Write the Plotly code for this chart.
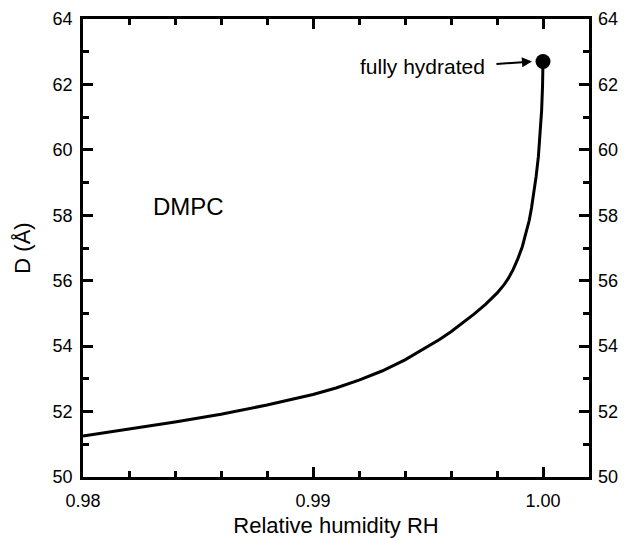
import plotly.graph_objects as go

# Repeat spacing D versus relative humidity for DMPC
rh = [0.9800, 0.9820, 0.9840, 0.9860, 0.9880, 0.9900, 0.9910, 0.9920, 0.9930,
      0.9940, 0.9950, 0.9955, 0.9960, 0.9965, 0.9970, 0.9975, 0.9980, 0.9983,
      0.9985, 0.9987, 0.9989, 0.9991, 0.9993, 0.9994, 0.9995, 0.9996, 0.9997,
      0.9998, 0.99988, 0.99994, 0.99998, 1.0000]
d_spacing = [51.25, 51.46, 51.68, 51.92, 52.20, 52.52, 52.72, 52.96, 53.24,
             53.58, 53.98, 54.20, 54.44, 54.70, 54.98, 55.28, 55.62, 55.87,
             56.08, 56.34, 56.66, 57.04, 57.52, 57.84, 58.22, 58.66, 59.18,
             59.80, 60.45, 61.20, 61.95, 62.70]

# Fully hydrated state
rh_full = [1.0000]
d_full = [62.70]

x_ticks = [0.98, 0.99, 1.00]
x_ticklabels = ["0.98", "0.99", "1.00"]
y_ticks = [50, 52, 54, 56, 58, 60, 62, 64]

FONT = "Liberation Sans, Arial, Helvetica, sans-serif"

fig = go.Figure()
fig.add_trace(go.Scatter(x=rh, y=d_spacing, mode="lines",
                         line=dict(color="black", width=3),
                         showlegend=False, hoverinfo="skip"))
fig.add_trace(go.Scatter(x=rh_full, y=d_full, mode="markers",
                         marker=dict(color="black", size=15),
                         showlegend=False))
# invisible trace that carries the right-hand axis
fig.add_trace(go.Scatter(x=rh_full, y=d_full, yaxis="y2", mode="markers",
                         marker=dict(opacity=0), showlegend=False,
                         hoverinfo="skip"))

axis_common = dict(showgrid=False, zeroline=False, showline=True,
                   linecolor="black", linewidth=2.5, ticks="inside",
                   tickcolor="black", tickwidth=2.5, ticklen=10,
                   automargin=False,
                   tickfont=dict(family=FONT, size=18, color="black"))

fig.update_layout(
    width=624, height=538,
    margin=dict(l=83, r=35, t=19, b=61),
    plot_bgcolor="white", paper_bgcolor="white",
    xaxis=dict(range=[0.98, 1.002], tickvals=x_ticks, ticktext=x_ticklabels,
               mirror="ticks", ticklabelstandoff=6,
               minor=dict(dtick=0.002, tick0=0.98, ticks="inside", ticklen=6,
                          tickwidth=2.5, tickcolor="black"),
               title=dict(text="Relative humidity RH",
                          font=dict(family=FONT, size=22, color="black"),
                          standoff=10),
               **axis_common),
    yaxis=dict(range=[50, 64], tickvals=y_ticks, mirror="ticks",
               ticklabelstandoff=4,
               minor=dict(dtick=1, tick0=50, ticks="inside", ticklen=6,
                          tickwidth=2.5, tickcolor="black"),
               title=dict(text="D (Å)",
                          font=dict(family=FONT, size=22, color="black"),
                          standoff=16),
               **axis_common),
    yaxis2=dict(range=[50, 64], tickvals=y_ticks, overlaying="y", side="right",
                showgrid=False, zeroline=False, showline=False, ticks="",
                automargin=False, ticklabelstandoff=8,
                tickfont=dict(family=FONT, size=18, color="black")),
    annotations=[
        dict(x=0.98457, y=58.28, xref="x", yref="y", text="DMPC",
             showarrow=False, font=dict(family=FONT, size=24, color="black")),
        dict(x=0.99757, y=62.55, xref="x", yref="y", text="fully hydrated",
             showarrow=False, xanchor="right", yanchor="middle",
             font=dict(family=FONT, size=21, color="black")),
        dict(x=0.99952, y=62.70, ax=0.99791, ay=62.62, xref="x", yref="y",
             axref="x", ayref="y", text="", showarrow=True, arrowhead=2,
             arrowsize=1, arrowwidth=2, arrowcolor="black"),
    ],
)

fig.write_html("out.html")
